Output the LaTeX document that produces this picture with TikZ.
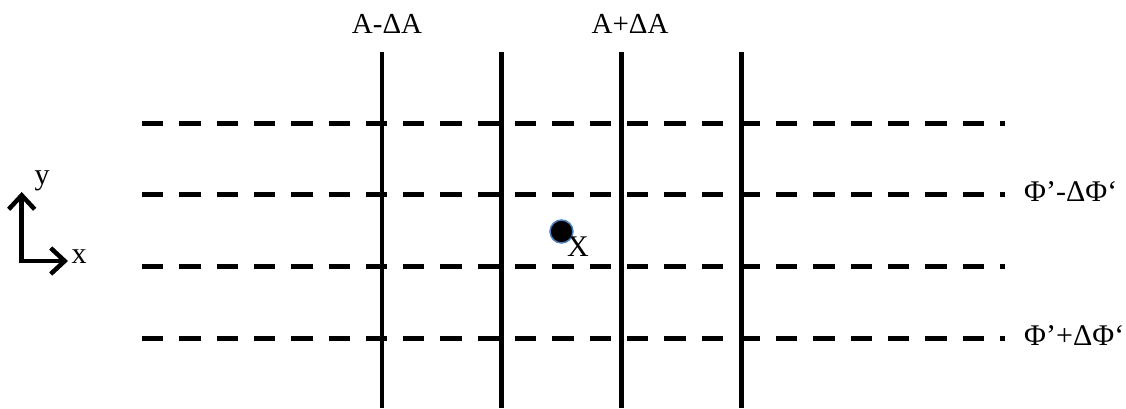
\documentclass[tikz,border=0pt]{standalone}
\usepackage{fontspec}
\setmainfont{Liberation Serif}
\usetikzlibrary{arrows.meta}
\definecolor{dotblue}{RGB}{79,129,189}
\begin{document}
\begin{tikzpicture}[x=1pt,y=1pt,
  vline/.style={line width=4.5pt},
  hline/.style={line width=5pt, dash pattern=on 21.3pt off 16pt},
  axis/.style={line width=4.5pt, -{Straight Barb[length=14pt,width=26pt]}},
  lbl/.style={font=\fontsize{29}{34}\selectfont, inner sep=0pt},
  philbl/.style={font=\fontsize{30}{36}\selectfont, inner sep=0pt},
  smalllbl/.style={font=\fontsize{30}{34}\selectfont, inner sep=0pt}]
\useasboundingbox (0,0) rectangle (1126,408);
% vertical lines
\foreach \i/\x in {1/382,2/501.5,3/621.5,4/741.5}{
  \coordinate (vt\i) at (\x,356);
  \coordinate (vb\i) at (\x,0);
  \draw[vline] (vt\i) -- (vb\i);
}
% horizontal dashed lines
\foreach \i/\y in {1/285,2/213.5,3/141.5,4/69.5}{
  \coordinate (hl\i) at (142,\y);
  \coordinate (hr\i) at (1005,\y);
  \draw[hline] (hl\i) -- (hr\i);
}
% labels
\node[lbl, anchor=base] (am) at (387,374) {A-ΔA};
\node[lbl, anchor=base] (ap) at (630,374) {A+ΔA};
\node[philbl, anchor=base west] (pm) at (1024,206.5) {Φ’-ΔΦ‘};
\node[philbl, anchor=base west] (pp) at (1024,62.5) {Φ’+ΔΦ‘};
% point
\node[circle, fill=black, draw=dotblue, line width=1.5pt, minimum size=23pt, inner sep=0pt] (pt) at (561.5,176.5) {};
\node[smalllbl] (xl) at (578,161) {X};
% axes
\coordinate (corner) at (21.7,147);
\coordinate (ytip) at (21.7,216);
\coordinate (xtip) at (68,147);
\draw[axis] ([yshift=-2.25pt]corner) -- (ytip);
\draw[axis] ([xshift=-2.25pt]corner) -- (xtip);
\node[smalllbl] (yl) at (42,227) {y};
\node[smalllbl] (xa) at (79,151) {x};
\end{tikzpicture}
\end{document}
